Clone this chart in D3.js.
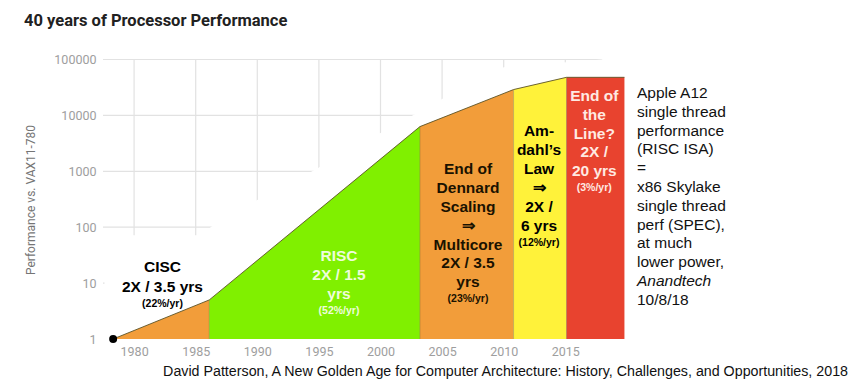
<!DOCTYPE html>
<html>
<head>
<meta charset="utf-8">
<script src="https://cdn.jsdelivr.net/npm/d3@7"></script>
<style>
  body { margin: 0; background: #fff; }
  svg { display: block; }
  .tick text { font-family: Roboto, sans-serif; fill: #9e9e9e; font-size: 12.5px; }
  .slide { font-family: 'Liberation Sans', Arial, sans-serif; }
</style>
</head>
<body>
<svg width="855" height="386"></svg>
<script>
const svg = d3.select('svg')

// curve breakpoints (year, performance vs VAX11-780)
const years = [1978.3, 1986.1, 2003.2, 2010.8, 2015.1, 2019.8]
const perf = [1, 5, 6300, 29000, 48000, 48000]

const eraColors = ['#f29d3a', '#80f000', '#f29d3a', '#fff23a', '#e8432f']

const xTicks = [1980, 1985, 1990, 1995, 2000, 2005, 2010, 2015]
const yTicks = [1, 10, 100, 1000, 10000, 100000]

// where the old chart's white cover cuts the grid
const gridClipYears = [1977.6, 1977.6, 1986, 1986.2, 1990, 1994.5, 2000, 2002.6, 2005, 2010, 2018]
const gridClipPerf = [2, 72, 72, 100, 307, 1010, 4840, 10000, 19600, 73000, 100000]

const x = d3.scaleLinear().domain([1980, 2015]).range([134.1, 565.3])
const y = d3.scaleLog().domain([1, 100000]).range([339, 59.5])

// title
svg.append('text')
    .attr('x', 24).attr('y', 26)
    .style('font-family', 'Roboto, sans-serif')
    .style('font-weight', 700)
    .style('font-size', '16.5px')
    .attr('fill', '#212121')
    .text('40 years of Processor Performance')

// y title
svg.append('text')
    .attr('transform', 'translate(31,200) rotate(-90)')
    .attr('text-anchor', 'middle')
    .attr('dominant-baseline', 'central')
    .style('font-family', 'Roboto, sans-serif')
    .style('font-size', '12px')
    .attr('fill', '#757575')
    .text('Performance vs. VAX11-780')

// grid, clipped
const clipPts = gridClipYears.map((d, i) => [x(d), y(gridClipPerf[i])])
clipPts.push([x(2018), 40], [90, 40], [90, y(2)])
svg.append('clipPath').attr('id', 'gridclip')
    .append('polygon')
    .attr('points', clipPts.map(p => p.join(',')).join(' '))

const grid = svg.append('g').attr('clip-path', 'url(#gridclip)')
    .attr('stroke', '#e2e2e2').attr('stroke-width', 1.2)
grid.selectAll('line.h').data(yTicks).enter().append('line')
    .attr('class', 'h')
    .attr('x1', 103).attr('x2', x(2019.8))
    .attr('y1', d => y(d)).attr('y2', d => y(d))
grid.selectAll('line.v').data(xTicks).enter().append('line')
    .attr('class', 'v')
    .attr('x1', d => x(d)).attr('x2', d => x(d))
    .attr('y1', y(100000)).attr('y2', y(1))

// axes
const yAxis = svg.append('g')
    .attr('transform', 'translate(103,0)')
    .call(d3.axisLeft(y).tickValues(yTicks).tickFormat(d3.format('d')).tickSize(0).tickPadding(6.5))
yAxis.select('.domain').remove()

const xAxis = svg.append('g')
    .attr('transform', `translate(0,${y(1)})`)
    .call(d3.axisBottom(x).tickValues(xTicks).tickFormat(d3.format('d')).tickSize(0).tickPadding(8))
xAxis.select('.domain').remove()

// era areas
const pts = years.map((d, i) => ({ year: d, perf: perf[i] }))
const area = d3.area()
    .x(d => x(d.year))
    .y0(y(1))
    .y1(d => y(d.perf))

const eras = d3.range(years.length - 1).map(i => pts.slice(i, i + 2))
svg.selectAll('path.era').data(eras).enter().append('path')
    .attr('class', 'era')
    .attr('d', area)
    .attr('fill', (d, i) => eraColors[i])

// thin edge along top and between eras
svg.append('path')
    .attr('d', d3.line().x(d => x(d.year)).y(d => y(d.perf))(pts))
    .attr('fill', 'none')
    .attr('stroke', '#5b5226')
    .attr('stroke-width', 0.9)
svg.selectAll('line.div').data(pts.slice(1, -1)).enter().append('line')
    .attr('class', 'div')
    .attr('x1', d => x(d.year)).attr('x2', d => x(d.year))
    .attr('y1', d => y(d.perf)).attr('y2', y(1))
    .attr('stroke', '#6b6030').attr('stroke-width', 0.6).attr('stroke-opacity', 0.6)

svg.append('circle')
    .attr('cx', x(years[0])).attr('cy', y(perf[0])).attr('r', 4)
    .attr('fill', '#000')

// era labels: [text, baseline, size]
const labelBlock = (cx, color, lines) => {
    const t = svg.append('text')
        .attr('class', 'slide')
        .attr('text-anchor', 'middle')
        .attr('fill', color)
        .style('font-weight', 700)
    lines.forEach(([s, yy, fs]) => {
        t.append('tspan').attr('x', cx).attr('y', yy)
            .style('font-size', fs + 'px')
            .text(s)
    })
}

labelBlock(162.5, '#000', [
    ['CISC', 272, 15.5], ['2X / 3.5 yrs', 292, 15.5], ['(22%/yr)', 306.5, 10.5]
])
labelBlock(339, '#effcdc', [
    ['RISC', 260.5, 15.5], ['2X / 1.5', 279.5, 15.5], ['yrs', 298.5, 15.5], ['(52%/yr)', 314, 10.5]
])
labelBlock(468, '#1a1200', [
    ['End of', 173.8, 15.5], ['Dennard', 192.8, 15.5], ['Scaling', 211.5, 15.5], ['\u21d2', 231, 15.5],
    ['Multicore', 249.5, 15.5], ['2X / 3.5', 268, 15.5], ['yrs', 287, 15.5], ['(23%/yr)', 302, 10.5]
])
labelBlock(539, '#000', [
    ['Am-', 135.5, 15.5], ['dahl\u2019s', 154.8, 15.5], ['Law', 173.5, 15.5], ['\u21d2', 192.8, 15.5],
    ['2X /', 211.5, 15.5], ['6 yrs', 230.5, 15.5], ['(12%/yr)', 245.5, 10.5]
])
labelBlock(594.3, '#ffe9e2', [
    ['End of', 100.5, 15.5], ['the', 119.5, 15.5], ['Line?', 138.5, 15.5], ['2X /', 157, 15.5],
    ['20 yrs', 176, 15.5], ['(3%/yr)', 191, 10.5]
])

// side note
const note = ['Apple A12', 'single thread', 'performance', '(RISC ISA)', '=', 'x86 Skylake',
    'single thread', 'perf (SPEC),', 'at much', 'lower power,', 'Anandtech', '10/8/18']
svg.append('text')
    .attr('class', 'slide')
    .style('font-size', '15.5px')
    .attr('fill', '#111')
    .selectAll('tspan').data(note).enter().append('tspan')
    .attr('x', 637)
    .attr('y', (d, i) => 98 + i * 18.8)
    .style('font-style', d => d === 'Anandtech' ? 'italic' : 'normal')
    .text(d => d)

svg.append('text')
    .attr('class', 'slide')
    .attr('x', 848).attr('y', 375.5)
    .attr('text-anchor', 'end')
    .style('font-size', '14.25px')
    .attr('fill', '#111')
    .text('David Patterson, A New Golden Age for Computer Architecture: History, Challenges, and Opportunities, 2018')
</script>
</body>
</html>
